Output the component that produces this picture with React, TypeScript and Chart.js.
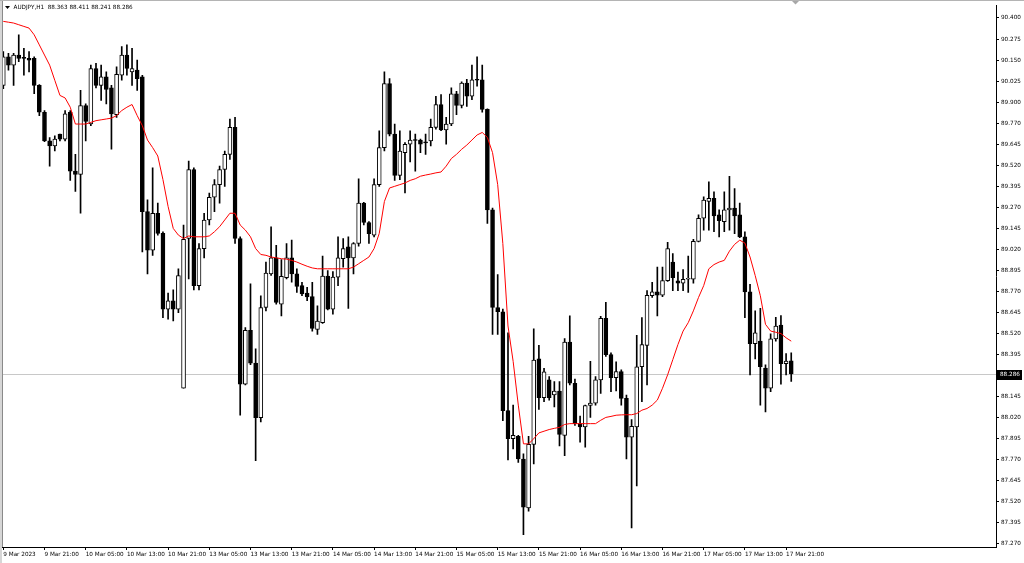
import React, { useEffect, useRef } from 'react';
import { Chart, registerables } from 'chart.js';

Chart.register(...registerables);

// ---- data (AUDJPY H1, 9 Mar 13:00 .. 17 Mar 22:00) ----
const opens = [
  90.00, 90.17, 90.12, 90.18, 90.165, 90.16, 90.16, 90.00, 89.84, 89.67,
  89.64, 89.71, 89.68, 89.84, 89.49, 89.47, 89.88, 89.77, 90.10, 90.00,
  90.05, 89.985, 89.825, 90.06, 90.18, 90.08, 90.09, 90.05, 89.25, 89.02,
  89.24, 89.12, 88.67, 88.72, 88.67, 88.20, 89.09, 89.50, 88.81, 89.03,
  89.20, 89.335, 89.41, 89.50, 89.59, 89.75, 89.09, 88.225, 88.545, 88.35,
  88.025, 88.68, 88.88, 88.975, 88.70, 88.857, 88.975, 88.88, 88.81, 88.765,
  88.745, 88.55, 88.59, 88.867, 88.67, 88.86, 88.97, 89.04, 88.975, 89.06,
  89.30, 89.185, 89.11, 89.41, 89.63, 90.01, 89.71, 89.465, 89.60, 89.65,
  89.677, 89.675, 89.662, 89.67, 89.75, 89.885, 89.735, 89.77, 89.95, 89.88,
  90.014, 89.935, 90.036, 90.033, 89.857, 89.26, 88.68, 88.655, 88.067, 87.90,
  87.915, 87.78, 87.49, 87.867, 88.375, 88.145, 88.25, 88.16, 88.184, 87.92,
  88.475, 88.23, 87.99, 87.97, 88.098, 88.112, 88.25, 88.616, 88.40, 88.263,
  88.30, 88.14, 87.91, 87.97, 88.328, 88.455, 88.75, 88.773, 88.753, 88.84,
  88.95, 88.838, 88.824, 88.848, 88.848, 89.073, 89.21, 89.31, 89.328, 89.23,
  89.19, 89.26, 89.27, 89.23, 89.10, 88.773, 88.465, 88.48, 88.32, 88.20,
  88.494, 88.576, 88.347, 88.363,
];
const highs = [
  90.20, 90.19, 90.19, 90.30, 90.22, 90.20, 90.17, 90.005, 89.85, 89.69,
  89.70, 89.71, 89.85, 89.85, 89.59, 89.97, 89.89, 90.12, 90.13, 90.12,
  90.08, 90.00, 90.11, 90.23, 90.24, 90.22, 90.15, 90.06, 89.32, 89.51,
  89.30, 89.13, 88.765, 88.785, 88.91, 89.17, 89.55, 89.51, 89.06, 89.24,
  89.36, 89.44, 89.52, 89.61, 89.80, 89.81, 89.10, 88.56, 88.82, 88.435,
  88.75, 88.95, 89.16, 89.05, 88.965, 89.06, 89.08, 88.91, 88.83, 88.80,
  88.83, 88.69, 88.985, 88.90, 88.893, 89.10, 89.09, 89.10, 89.065, 89.445,
  89.305, 89.19, 89.445, 89.73, 90.08, 90.04, 89.77, 89.73, 89.66, 89.73,
  89.71, 89.68, 89.71, 89.80, 89.935, 89.945, 89.81, 89.985, 89.965, 90.02,
  90.035, 90.12, 90.17, 90.12, 89.86, 89.27, 88.876, 88.67, 88.53, 88.10,
  87.92, 87.81, 87.915, 88.553, 88.455, 88.318, 88.27, 88.24, 88.24, 88.495,
  88.63, 88.255, 88.035, 88.10, 88.36, 88.27, 88.628, 88.71, 88.41, 88.357,
  88.31, 88.16, 88.014, 88.514, 88.62, 88.78, 88.83, 88.92, 88.92, 89.067,
  89.00, 88.89, 88.906, 88.985, 89.085, 89.23, 89.338, 89.426, 89.367, 89.26,
  89.367, 89.46, 89.386, 89.30, 89.13, 88.818, 88.66, 88.675, 88.34, 88.524,
  88.622, 88.632, 88.406, 88.411,
];
const lows = [
  89.98, 90.09, 90.00, 90.14, 90.06, 90.08, 89.95, 89.82, 89.665, 89.52,
  89.61, 89.67, 89.67, 89.435, 89.37, 89.24, 89.67, 89.76, 89.985, 89.91,
  89.89, 89.62, 89.81, 90.03, 90.06, 90.00, 89.97, 89.01, 88.88, 88.99,
  89.11, 88.62, 88.61, 88.60, 88.65, 88.20, 88.85, 88.785, 88.785, 88.975,
  89.17, 89.25, 89.30, 89.40, 89.56, 89.06, 88.04, 88.22, 88.34, 87.77,
  88.00, 88.66, 88.87, 88.70, 88.63, 88.85, 88.83, 88.77, 88.75, 88.72,
  88.54, 88.52, 88.585, 88.665, 88.64, 88.81, 88.92, 88.675, 88.88, 89.045,
  89.17, 89.06, 89.10, 89.40, 89.61, 89.70, 89.435, 89.44, 89.36, 89.545,
  89.49, 89.60, 89.59, 89.64, 89.74, 89.73, 89.65, 89.76, 89.825, 89.865,
  89.875, 89.915, 89.995, 89.84, 89.18, 88.52, 88.52, 88.008, 87.775, 87.84,
  87.76, 87.33, 87.47, 87.75, 88.075, 88.12, 88.13, 88.09, 87.857, 87.80,
  88.22, 87.98, 87.88, 87.85, 88.027, 88.10, 88.17, 88.39, 88.18, 88.184,
  88.10, 87.78, 87.37, 87.62, 88.12, 88.22, 88.74, 88.63, 88.745, 88.835,
  88.78, 88.78, 88.78, 88.77, 88.824, 89.07, 89.14, 89.14, 89.13, 89.10,
  89.13, 89.14, 89.118, 89.095, 88.62, 88.28, 88.375, 88.10, 88.06, 88.18,
  88.48, 88.224, 88.28, 88.241,
];
const closes = [
  90.17, 90.12, 90.18, 90.16, 90.16, 90.15, 90.00, 89.84, 89.67, 89.64,
  89.68, 89.68, 89.83, 89.49, 89.47, 89.88, 89.785, 90.10, 90.00, 90.05,
  89.975, 89.83, 90.065, 90.18, 90.10, 90.10, 90.04, 89.25, 89.02, 89.24,
  89.12, 88.67, 88.72, 88.67, 88.87, 89.085, 89.50, 88.81, 89.03, 89.20,
  89.335, 89.41, 89.50, 89.59, 89.75, 89.09, 88.225, 88.545, 88.35, 88.025,
  88.68, 88.885, 88.975, 88.71, 88.865, 88.975, 88.88, 88.805, 88.76, 88.743,
  88.555, 88.60, 88.867, 88.67, 88.86, 88.975, 89.03, 88.975, 89.06, 89.30,
  89.185, 89.118, 89.41, 89.63, 90.01, 89.71, 89.465, 89.61, 89.65, 89.675,
  89.672, 89.65, 89.658, 89.75, 89.885, 89.735, 89.77, 89.95, 89.88, 90.014,
  89.935, 90.033, 90.03, 89.857, 89.26, 88.68, 88.655, 88.067, 87.90, 87.92,
  87.78, 87.494, 87.867, 88.367, 88.145, 88.298, 88.145, 88.184, 87.926, 88.475,
  88.23, 87.99, 87.97, 88.098, 88.112, 88.25, 88.616, 88.40, 88.263, 88.30,
  88.14, 87.91, 87.974, 88.328, 88.46, 88.753, 88.773, 88.753, 88.84, 89.03,
  88.857, 88.824, 88.847, 88.85, 89.073, 89.21, 89.318, 89.328, 89.224, 89.196,
  89.26, 89.27, 89.224, 89.10, 88.773, 88.465, 88.53, 88.328, 88.20, 88.494,
  88.57, 88.347, 88.361, 88.286,
];
const maValues = [
  90.38, 90.375, 90.37, 90.36, 90.35, 90.34, 90.30, 90.24, 90.18, 90.12,
  90.03, 89.94, 89.925, 89.87, 89.77, 89.77, 89.77, 89.78, 89.79, 89.795,
  89.80, 89.805, 89.82, 89.85, 89.87, 89.886, 89.82, 89.76, 89.675, 89.63,
  89.58, 89.44, 89.28, 89.15, 89.11, 89.09, 89.105, 89.10, 89.10, 89.10,
  89.105, 89.13, 89.16, 89.20, 89.24, 89.24, 89.17, 89.14, 89.10, 89.03,
  88.995, 88.99, 88.98, 88.975, 88.97, 88.967, 88.96, 88.95, 88.937, 88.925,
  88.915, 88.91, 88.91, 88.91, 88.91, 88.91, 88.91, 88.91, 88.92, 88.94,
  88.96, 88.98, 89.03, 89.12, 89.31, 89.39, 89.40, 89.41, 89.42, 89.435,
  89.445, 89.46, 89.467, 89.473, 89.48, 89.485, 89.52, 89.565, 89.59, 89.62,
  89.645, 89.675, 89.705, 89.72, 89.69, 89.60, 89.41, 89.06, 88.57, 88.36,
  88.10, 87.87, 87.87, 87.90, 87.935, 87.945, 87.955, 87.962, 87.968, 87.985,
  87.99, 87.99, 87.99, 87.99, 87.99, 87.99, 88.01, 88.027, 88.033, 88.04,
  88.042, 88.043, 88.043, 88.05, 88.07, 88.08, 88.10, 88.13, 88.20, 88.28,
  88.37, 88.46, 88.54, 88.59, 88.66, 88.74, 88.81, 88.91, 88.935, 88.95,
  88.96, 89.015, 89.055, 89.08, 89.063, 88.98, 88.87, 88.75, 88.58, 88.54,
  88.533, 88.525, 88.50, 88.48,
];

const xTickIndices = [0, 8, 16, 24, 32, 40, 48, 56, 64, 72, 80, 88, 96, 104, 112, 120, 128, 136, 144, 152];
const xTickLabels = [
  '9 Mar 2023', '9 Mar 21:00', '10 Mar 05:00', '10 Mar 13:00', '10 Mar 21:00',
  '13 Mar 05:00', '13 Mar 13:00', '13 Mar 21:00', '14 Mar 05:00', '14 Mar 13:00',
  '14 Mar 21:00', '15 Mar 05:00', '15 Mar 13:00', '15 Mar 21:00', '16 Mar 05:00',
  '16 Mar 13:00', '16 Mar 21:00', '17 Mar 05:00', '17 Mar 13:00', '17 Mar 21:00',
];
const yTickValues = [
  90.4, 90.275, 90.15, 90.025, 89.9, 89.775, 89.65, 89.525, 89.4, 89.275,
  89.15, 89.025, 88.9, 88.775, 88.65, 88.525, 88.4, 88.275, 88.15, 88.025,
  87.9, 87.775, 87.65, 87.525, 87.4, 87.275,
];
const yTickLabels = [
  '90.400', '90.275', '90.150', '90.025', '89.900', '89.770', '89.645', '89.520', '89.395', '89.270',
  '89.145', '89.020', '88.895', '88.770', '88.645', '88.520', '88.395', '88.270', '88.145', '88.020',
  '87.895', '87.770', '87.645', '87.520', '87.395', '87.270',
];
const titleText = 'AUDJPY,H1  88.363 88.411 88.241 88.286';
const currentPrice = 88.286;
const currentPriceLabel = '88.286';

const FONT_FAMILY = '"DejaVu Sans", Tahoma, sans-serif';
const FONT_SIZE = 5.7;

const decorPlugin = {
  id: 'mt4decor',
  beforeDatasetsDraw(chart: any) {
    const { ctx, chartArea, scales } = chart;
    const y = Math.round(scales.y.getPixelForValue(currentPrice)) + 0.5;
    ctx.save();
    ctx.strokeStyle = '#c8c8c8';
    ctx.lineWidth = 1;
    ctx.beginPath();
    ctx.moveTo(chartArea.left, y);
    ctx.lineTo(chartArea.right, y);
    ctx.stroke();
    ctx.restore();
  },
  afterDraw(chart: any) {
    const { ctx, chartArea, scales } = chart;
    const y = scales.y.getPixelForValue(currentPrice);
    ctx.save();
    // current price box on the axis
    ctx.fillStyle = '#000';
    ctx.fillRect(chartArea.right + 1, Math.round(y) - 4, 1022 - chartArea.right - 1, 10);
    ctx.fillStyle = '#fff';
    ctx.font = `${FONT_SIZE}px ${FONT_FAMILY}`;
    ctx.textBaseline = 'middle';
    ctx.textAlign = 'left';
    ctx.fillText(currentPriceLabel, chartArea.right + 4, Math.round(y) + 1);
    // title
    ctx.fillStyle = '#000';
    ctx.beginPath();
    ctx.moveTo(5, 6);
    ctx.lineTo(10, 6);
    ctx.lineTo(7.5, 9);
    ctx.closePath();
    ctx.fill();
    ctx.fillText(titleText, 13.5, 8);
    // frame
    ctx.fillStyle = '#d6d6d6';
    ctx.fillRect(0, 0, 2, 563);
    ctx.fillStyle = '#8a8a8a';
    ctx.fillRect(2, 0, 1, chartArea.bottom);
    ctx.fillStyle = '#b4b4b4';
    ctx.fillRect(0, 0, 1024, 1);
    // chart shift marker
    ctx.fillStyle = '#a8a8a8';
    ctx.beginPath();
    ctx.moveTo(792, 1);
    ctx.lineTo(799, 1);
    ctx.lineTo(795.5, 4.5);
    ctx.closePath();
    ctx.fill();
    ctx.restore();
  },
};

export default function App() {
  const ref = useRef<HTMLCanvasElement>(null);
  useEffect(() => {
    document.body.style.margin = '0';
    const canvas = ref.current!;
    const idx = opens.map((_, i) => i);
    const wickData = idx.map((i) => ({ x: i, y: [lows[i], highs[i]] }));
    const bodyData = idx.map((i) => ({ x: i, y: [opens[i], closes[i]] }));
    const bodyColors = idx.map((i) => (closes[i] >= opens[i] ? '#ffffff' : '#000000'));
    const maData = maValues.map((v, i) => ({ x: i, y: v }));

    const chart = new Chart(canvas, {
      type: 'bar',
      data: {
        datasets: [
          {
            type: 'bar',
            data: wickData as any,
            backgroundColor: '#000',
            borderWidth: 0,
            barThickness: 1,
            grouped: false,
            order: 3,
          } as any,
          {
            type: 'bar',
            data: bodyData as any,
            backgroundColor: bodyColors,
            borderColor: '#000',
            borderWidth: 1,
            borderSkipped: false,
            barThickness: 4,
            minBarLength: 1,
            grouped: false,
            order: 2,
          } as any,
          {
            type: 'line',
            data: maData as any,
            borderColor: '#ff0000',
            borderWidth: 1,
            pointRadius: 0,
            tension: 0,
            fill: false,
            order: 1,
          } as any,
        ],
      },
      options: {
        responsive: false,
        animation: false,
        events: [],
        layout: { padding: 0 },
        plugins: {
          legend: { display: false },
          tooltip: { enabled: false },
          title: { display: false },
        },
        scales: {
          x: {
            type: 'linear',
            min: -0.64,
            max: 192.76,
            offset: false,
            afterBuildTicks: (scale: any) => {
              scale.ticks = xTickIndices.map((v) => ({ value: v }));
            },
            afterFit: (scale: any) => {
              scale.height = 16;
            },
            ticks: {
              autoSkip: false,
              maxRotation: 0,
              minRotation: 0,
              align: 'start',
              padding: 1,
              color: '#000',
              font: { family: FONT_FAMILY, size: FONT_SIZE },
              callback: (_v: any, i: number) => xTickLabels[i],
            },
            grid: {
              offset: false,
              drawOnChartArea: false,
              drawTicks: true,
              tickLength: 3,
              color: '#000',
            },
            border: { display: true, color: '#000', width: 1 },
          },
          y: {
            type: 'linear',
            position: 'right',
            min: 87.2571,
            max: 90.4747,
            afterBuildTicks: (scale: any) => {
              scale.ticks = yTickValues.map((v) => ({ value: v }));
            },
            afterFit: (scale: any) => {
              scale.width = 28;
            },
            ticks: {
              padding: 2,
              color: '#000',
              font: { family: FONT_FAMILY, size: FONT_SIZE },
              callback: (_v: any, i: number) => yTickLabels[i],
            },
            grid: {
              drawOnChartArea: false,
              drawTicks: true,
              tickLength: 3,
              color: '#000',
            },
            border: { display: true, color: '#000', width: 1 },
          },
        },
      } as any,
      plugins: [decorPlugin],
    });
    return () => chart.destroy();
  }, []);

  return (
    <div style={{ width: 1024, height: 563, position: 'relative', background: '#fff', overflow: 'hidden' }}>
      <canvas ref={ref} width={1024} height={563} style={{ display: 'block', width: 1024, height: 563 }} />
    </div>
  );
}
